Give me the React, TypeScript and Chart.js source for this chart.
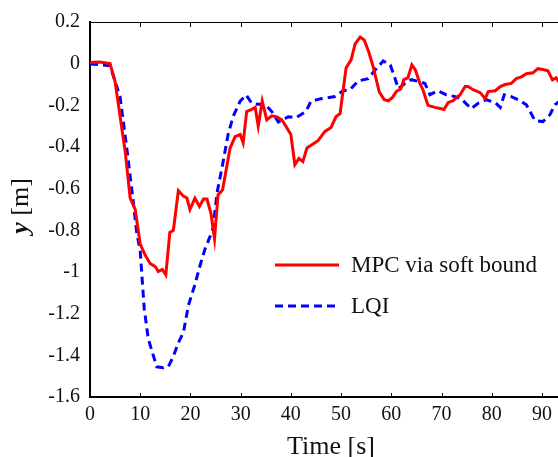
import React, { useEffect, useRef } from "react";
import { Chart, registerables } from "chart.js";

Chart.register(...registerables);

const mpcTime = [0, 2, 4, 5, 7, 8, 9, 9.6, 10, 11, 12, 13, 13.6, 14.4, 15.1, 15.9, 16.6, 17.6, 18.6, 19.3, 19.9, 20.9, 21.8, 22.6, 23.3, 24.1, 24.8, 25.5, 26.4, 27.9, 28.9, 29.9, 30.5, 31.2, 32.2, 32.9, 33.5, 34.3, 35.2, 36.2, 37.2, 38.2, 39, 40, 40.8, 41.6, 42.4, 43.2, 45.4, 46.8, 48, 49, 49.8, 51, 52, 52.8, 53.8, 54.6, 55.5, 56.4, 57.6, 58.6, 59.4, 60.2, 61, 61.9, 62.5, 63.3, 64.1, 64.8, 65.7, 66.3, 67.3, 68.7, 69.7, 70.5, 71.3, 72.3, 73.7, 74.7, 75.3, 76.3, 77.7, 78.7, 79.3, 80.7, 81.7, 82.7, 83.9, 84.9, 85.9, 86.9, 88.2, 89.2, 90.2, 91.2, 92.1, 92.8, 93.5];
const mpcY = [0.005, 0.008, 0.0, -0.087, -0.42, -0.645, -0.7, -0.8, -0.866, -0.92, -0.96, -0.974, -0.998, -0.988, -1.014, -0.81, -0.8, -0.61, -0.636, -0.645, -0.7, -0.645, -0.685, -0.65, -0.65, -0.72, -0.84, -0.63, -0.605, -0.405, -0.35, -0.34, -0.38, -0.23, -0.22, -0.21, -0.3, -0.18, -0.27, -0.25, -0.255, -0.27, -0.3, -0.34, -0.485, -0.455, -0.47, -0.405, -0.37, -0.325, -0.306, -0.254, -0.24, -0.02, 0.018, 0.095, 0.128, 0.114, 0.057, -0.015, -0.135, -0.173, -0.178, -0.163, -0.134, -0.12, -0.077, -0.068, -0.006, -0.03, -0.095, -0.125, -0.2, -0.21, -0.215, -0.22, -0.187, -0.178, -0.149, -0.11, -0.11, -0.125, -0.139, -0.168, -0.134, -0.13, -0.11, -0.1, -0.095, -0.072, -0.063, -0.048, -0.044, -0.024, -0.028, -0.034, -0.078, -0.068, -0.09];

const lqiTime = [0, 2, 4, 6, 7.4, 8.6, 9.3, 10, 10.8, 11.6, 12.6, 13.3, 14.6, 15.6, 16.6, 17.6, 18.6, 19.6, 20.9, 21.9, 22.9, 23.9, 24.5, 25.3, 26.4, 27.5, 28.5, 29.9, 31.1, 32.2, 33.5, 34.9, 36.2, 37.5, 39.5, 41, 43, 44, 46, 48.8, 50.4, 51.8, 53.4, 55.4, 56.8, 58.4, 59.8, 60.5, 61.4, 62.7, 64, 65.7, 66.7, 67.7, 69.3, 70.9, 72.7, 73.9, 75.9, 77.3, 78.9, 80.7, 81.7, 82.5, 83.9, 85.3, 86.9, 88.6, 90.2, 91.6, 92.6, 93.5];
const lqiY = [-0.002, -0.005, -0.01, -0.16, -0.42, -0.66, -0.81, -0.9, -1.176, -1.32, -1.4, -1.455, -1.46, -1.455, -1.405, -1.34, -1.29, -1.16, -1.06, -0.97, -0.89, -0.83, -0.79, -0.62, -0.485, -0.34, -0.254, -0.18, -0.15, -0.19, -0.195, -0.195, -0.23, -0.28, -0.255, -0.26, -0.23, -0.18, -0.168, -0.158, -0.13, -0.125, -0.083, -0.072, -0.03, 0.013, -0.006, -0.053, -0.12, -0.095, -0.077, -0.087, -0.095, -0.149, -0.13, -0.149, -0.158, -0.168, -0.216, -0.19, -0.173, -0.187, -0.21, -0.149, -0.158, -0.173, -0.197, -0.273, -0.278, -0.245, -0.197, -0.18];

const seriesLabels = ["MPC via soft bound", "LQI"];
const xTicks = [0, 10, 20, 30, 40, 50, 60, 70, 80, 90];
const yTicks = [0.2, 0, -0.2, -0.4, -0.6, -0.8, -1, -1.2, -1.4, -1.6];
const xTitle = "Time [s]";
const yTitleVar = "y";
const yTitleUnit = " [m]";

const SERIF = "'Liberation Serif', 'Times New Roman', serif";

const decorPlugin = {
  id: "decor",
  afterDraw(chart: any) {
    const { ctx, chartArea, scales } = chart;
    const xs = scales.x;
    ctx.save();
    // top border
    ctx.strokeStyle = "#000";
    ctx.lineWidth = 1;
    ctx.beginPath();
    ctx.moveTo(chartArea.left, chartArea.top + 0.5);
    ctx.lineTo(chartArea.right, chartArea.top + 0.5);
    ctx.stroke();
    // inward ticks top & bottom
    ctx.lineWidth = 1;
    xTicks.forEach((t) => {
      if (t === 0) return;
      const px = Math.round(xs.getPixelForValue(t)) + 0.5;
      ctx.beginPath();
      ctx.moveTo(px, chartArea.top);
      ctx.lineTo(px, chartArea.top + 5);
      ctx.moveTo(px, chartArea.bottom);
      ctx.lineTo(px, chartArea.bottom - 4);
      ctx.stroke();
    });
    // x title
    ctx.fillStyle = "#111";
    ctx.font = `26px ${SERIF}`;
    ctx.textAlign = "center";
    ctx.textBaseline = "alphabetic";
    ctx.fillText(xTitle, 331, 454);
    // y title (rotated)
    ctx.translate(28, 206);
    ctx.rotate(-Math.PI / 2);
    ctx.font = `italic bold 26px ${SERIF}`;
    const w1 = ctx.measureText(yTitleVar).width;
    ctx.font = `26px ${SERIF}`;
    const w2 = ctx.measureText(yTitleUnit).width;
    const start = -(w1 + w2) / 2;
    ctx.textAlign = "left";
    ctx.font = `italic bold 26px ${SERIF}`;
    ctx.fillText(yTitleVar, start, 0);
    ctx.font = `26px ${SERIF}`;
    ctx.fillText(yTitleUnit, start + w1, 0);
    ctx.restore();

    // legend
    ctx.save();
    const rows = [265, 306];
    chart.data.datasets.forEach((ds: any, i: number) => {
      const y = rows[i];
      ctx.strokeStyle = ds.borderColor;
      ctx.lineWidth = 3;
      ctx.setLineDash(ds.borderDash || []);
      ctx.beginPath();
      ctx.moveTo(275, y);
      ctx.lineTo(339, y);
      ctx.stroke();
      ctx.setLineDash([]);
      ctx.fillStyle = "#111";
      ctx.font = `23px ${SERIF}`;
      ctx.textAlign = "left";
      ctx.textBaseline = "middle";
      ctx.fillText(ds.label, 351, y + 1);
    });
    ctx.restore();
  },
};

export default function App() {
  const ref = useRef<HTMLCanvasElement | null>(null);
  useEffect(() => {
    document.body.style.margin = "0";
    const canvas = ref.current;
    if (!canvas) return;
    const chart = new Chart(canvas, {
      type: "line",
      data: {
        datasets: [
          {
            label: seriesLabels[0],
            data: mpcTime.map((t, i) => ({ x: t, y: mpcY[i] })),
            borderColor: "#ff0000",
            borderWidth: 3,
            pointRadius: 0,
            tension: 0,
            fill: false,
          },
          {
            label: seriesLabels[1],
            data: lqiTime.map((t, i) => ({ x: t, y: lqiY[i] })),
            borderColor: "#0000ff",
            borderWidth: 3,
            borderDash: [8, 5],
            pointRadius: 0,
            tension: 0,
            fill: false,
          },
        ],
      },
      options: {
        animation: false,
        responsive: true,
        maintainAspectRatio: false,
        layout: { padding: { top: 20, right: 0, left: 0, bottom: 0 } },
        plugins: {
          legend: { display: false },
          tooltip: { enabled: false },
        },
        scales: {
          x: {
            type: "linear",
            min: 0,
            max: 93.2,
            afterFit: (s: any) => {
              s.height = 60;
            },
            afterBuildTicks: (s: any) => {
              s.ticks = xTicks.map((v) => ({ value: v }));
            },
            grid: { display: true, drawOnChartArea: false, drawTicks: false },
            border: { display: true, color: "#000", width: 2 },
            ticks: {
              color: "#111",
              font: { family: SERIF, size: 20 },
              padding: 6,
              maxRotation: 0,
              callback: (v: any) => String(v),
            },
          },
          y: {
            type: "linear",
            min: -1.6,
            max: 0.2,
            afterFit: (s: any) => {
              s.width = 90;
            },
            afterBuildTicks: (s: any) => {
              s.ticks = yTicks.map((v) => ({ value: v }));
            },
            grid: { display: true, drawOnChartArea: false, drawTicks: false },
            border: { display: true, color: "#000", width: 2 },
            ticks: {
              color: "#111",
              font: { family: SERIF, size: 20 },
              padding: 10,
              callback: (v: any) => String(Math.round(Number(v) * 10) / 10),
            },
          },
        },
      },
      plugins: [decorPlugin],
    });
    return () => chart.destroy();
  }, []);
  return (
    <div style={{ position: "absolute", left: 0, top: 0, width: 558, height: 457 }}>
      <canvas ref={ref} />
    </div>
  );
}
